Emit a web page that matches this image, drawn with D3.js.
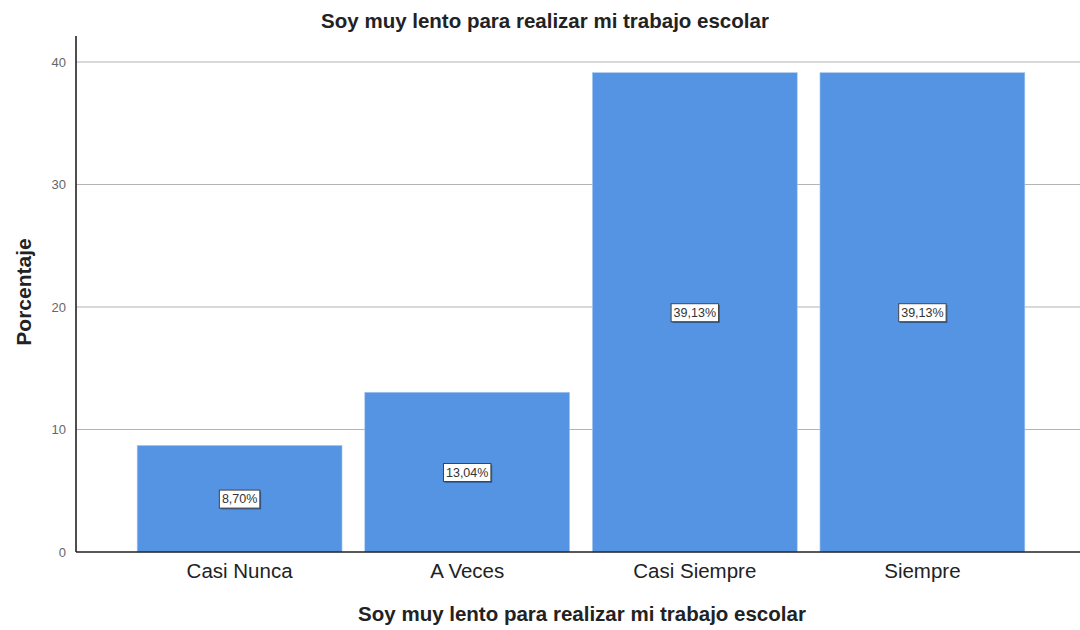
<!DOCTYPE html>
<html>
<head>
<meta charset="utf-8">
<script src="https://cdn.jsdelivr.net/npm/d3@7"></script>
<style>
  html, body { margin: 0; padding: 0; background: #fff; }
  svg { display: block; font-family: "Liberation Sans", Arial, sans-serif; }
</style>
</head>
<body>
<svg id="chart" width="1080" height="630"></svg>
<script>
// Frequency of answers, in percent
const categories = ["Casi Nunca", "A Veces", "Casi Siempre", "Siempre"];
const percents = [8.70, 13.04, 39.13, 39.13];
const yTicks = [0, 10, 20, 30, 40];
const chartTitle = "Soy muy lento para realizar mi trabajo escolar";
const xTitle = "Soy muy lento para realizar mi trabajo escolar";
const yTitle = "Porcentaje";

const svg = d3.select("#chart");
const plot = { left: 76, right: 1084, top: 36, bottom: 552 };

const x = d3.scaleBand()
  .domain(categories)
  .range([plot.left + 2, plot.right])
  .paddingInner(0.1)
  .paddingOuter(0.26);

const y = d3.scaleLinear()
  .domain([0, 40])
  .range([plot.bottom, plot.bottom - 490]);

// horizontal gridlines
svg.append("g")
  .selectAll("line")
  .data(yTicks.filter(d => d > 0))
  .join("line")
  .attr("x1", plot.left).attr("x2", 1080)
  .attr("y1", d => y(d)).attr("y2", d => y(d))
  .attr("stroke", "#b4b4b4").attr("stroke-width", 1.2);

// bars
svg.append("g")
  .selectAll("rect")
  .data(percents)
  .join("rect")
  .attr("x", (d, i) => x(categories[i]))
  .attr("y", d => y(d))
  .attr("width", x.bandwidth())
  .attr("height", d => y(0) - y(d))
  .attr("fill", "#5494e3")
  .attr("stroke", "#a9c8f0")
  .attr("stroke-width", 0.6);

// y axis
const yAxis = svg.append("g")
  .attr("transform", `translate(${plot.left},0)`)
  .call(d3.axisLeft(y).tickValues(yTicks).tickSize(0).tickPadding(10));
yAxis.select(".domain").remove();
yAxis.selectAll("text")
  .attr("font-size", 13)
  .attr("fill", "#666")
  .attr("font-family", "Liberation Sans, Arial, sans-serif");

svg.append("line")
  .attr("x1", plot.left).attr("x2", plot.left)
  .attr("y1", plot.top).attr("y2", plot.bottom)
  .attr("stroke", "#222").attr("stroke-width", 1.6);

// x axis
const xAxis = svg.append("g")
  .attr("transform", `translate(0,${plot.bottom})`)
  .call(d3.axisBottom(x).tickSize(0).tickPadding(0));
xAxis.select(".domain").remove();
xAxis.selectAll("text")
  .attr("dy", null)
  .attr("y", 26)
  .attr("font-size", 20.5)
  .attr("fill", "#222")
  .attr("font-family", "Liberation Sans, Arial, sans-serif");

svg.append("line")
  .attr("x1", plot.left).attr("x2", 1080)
  .attr("y1", plot.bottom).attr("y2", plot.bottom)
  .attr("stroke", "#222").attr("stroke-width", 1.6);

// value labels in boxes at half bar height
const fmt = v => v.toFixed(2).replace(".", ",") + "%";
const labels = svg.append("g")
  .selectAll("g")
  .data(percents)
  .join("g")
  .attr("transform", (d, i) => `translate(${x(categories[i]) + x.bandwidth() / 2},${y(d / 2)})`);

labels.append("text")
  .attr("text-anchor", "middle")
  .attr("dy", "0.35em")
  .attr("font-size", 12.5)
  .attr("fill", "#333")
  .text(d => fmt(d))
  .each(function () {
    const b = this.getBBox();
    const px = 2.5, py = 2;
    d3.select(this.parentNode).insert("rect", "text")
      .attr("x", b.x - px + 1.3).attr("y", b.y - py + 1.3)
      .attr("width", b.width + 2 * px).attr("height", b.height + 2 * py)
      .attr("fill", "#1d3c66").attr("opacity", 0.6);
    d3.select(this.parentNode).insert("rect", "text")
      .attr("x", b.x - px).attr("y", b.y - py)
      .attr("width", b.width + 2 * px).attr("height", b.height + 2 * py)
      .attr("fill", "#fff")
      .attr("stroke", "#444").attr("stroke-width", 1);
  });

// titles
svg.append("text")
  .attr("x", 545).attr("y", 28)
  .attr("text-anchor", "middle")
  .attr("font-size", 20.5).attr("font-weight", "bold")
  .attr("fill", "#222")
  .text(chartTitle);

svg.append("text")
  .attr("x", 582).attr("y", 621)
  .attr("text-anchor", "middle")
  .attr("font-size", 20.5).attr("font-weight", "bold")
  .attr("fill", "#222")
  .text(xTitle);

svg.append("text")
  .attr("transform", "translate(31,292) rotate(-90)")
  .attr("text-anchor", "middle")
  .attr("font-size", 21).attr("font-weight", "bold")
  .attr("fill", "#222")
  .text(yTitle);
</script>
</body>
</html>
